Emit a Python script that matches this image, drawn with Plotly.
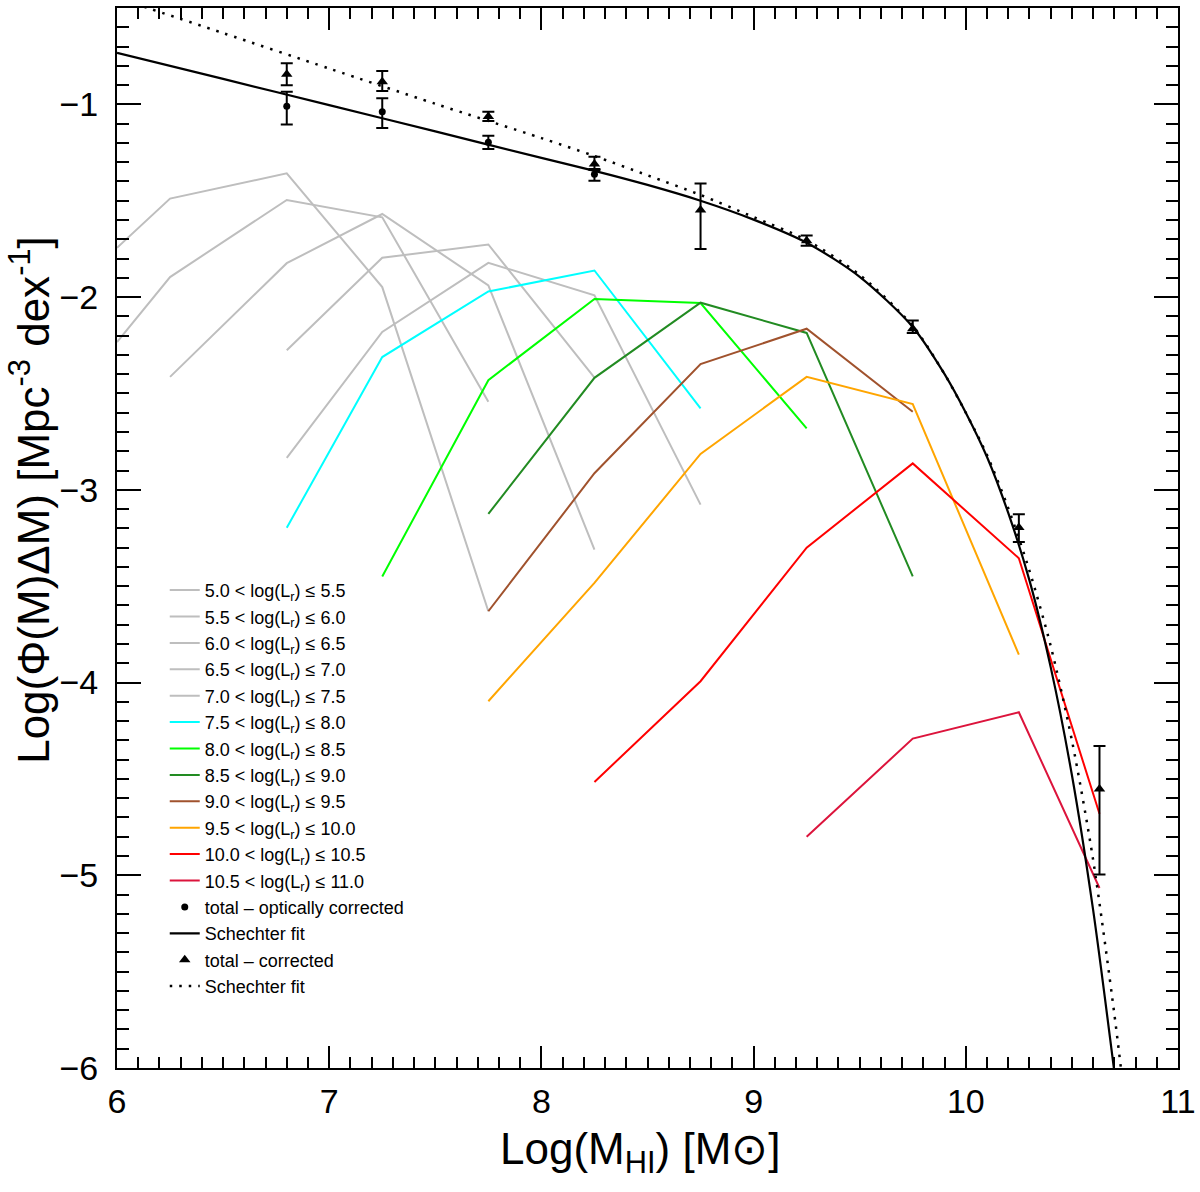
import plotly.graph_objects as go

# luminosity-bin HI mass functions (log M_HI, log phi)
bin_labels = [
    "5.0 &lt; log(L<sub>r</sub>) ≤ 5.5",
    "5.5 &lt; log(L<sub>r</sub>) ≤ 6.0",
    "6.0 &lt; log(L<sub>r</sub>) ≤ 6.5",
    "6.5 &lt; log(L<sub>r</sub>) ≤ 7.0",
    "7.0 &lt; log(L<sub>r</sub>) ≤ 7.5",
    "7.5 &lt; log(L<sub>r</sub>) ≤ 8.0",
    "8.0 &lt; log(L<sub>r</sub>) ≤ 8.5",
    "8.5 &lt; log(L<sub>r</sub>) ≤ 9.0",
    "9.0 &lt; log(L<sub>r</sub>) ≤ 9.5",
    "9.5 &lt; log(L<sub>r</sub>) ≤ 10.0",
    "10.0 &lt; log(L<sub>r</sub>) ≤ 10.5",
    "10.5 &lt; log(L<sub>r</sub>) ≤ 11.0",
]
bin_colors = ["#bebebe", "#bebebe", "#bebebe", "#bebebe", "#bebebe",
              "#00ffff", "#00ff00", "#228b22", "#a0522d", "#ffa500",
              "#ff0000", "#dc143c"]

bin_x = [
    [6.0, 6.25, 6.8, 7.25, 7.75],
    [6.0, 6.25, 6.8, 7.25, 7.75],
    [6.25, 6.8, 7.25, 7.75, 8.25],
    [6.8, 7.25, 7.75, 8.25],
    [6.8, 7.25, 7.75, 8.25, 8.75],
    [6.8, 7.25, 7.75, 8.25, 8.75],
    [7.25, 7.75, 8.25, 8.75, 9.25],
    [7.75, 8.25, 8.75, 9.25, 9.75],
    [7.75, 8.25, 8.75, 9.25, 9.75],
    [7.75, 8.25, 8.75, 9.25, 9.75, 10.25],
    [8.25, 8.75, 9.25, 9.75, 10.25, 10.63],
    [9.25, 9.75, 10.25, 10.63],
]
bin_y = [
    [-1.744, -1.489, -1.358, -1.948, -3.63],
    [-2.233, -1.896, -1.496, -1.586, -2.543],
    [-2.414, -1.824, -1.569, -1.939, -3.31],
    [-2.276, -1.796, -1.727, -2.418],
    [-2.834, -2.181, -1.822, -1.991, -3.077],
    [-3.197, -2.311, -1.971, -1.862, -2.577],
    [-3.45, -2.431, -2.01, -2.031, -2.681],
    [-3.125, -2.419, -2.029, -2.186, -3.449],
    [-3.63, -2.914, -2.348, -2.164, -2.595],
    [-4.097, -3.483, -2.814, -2.414, -2.555, -3.855],
    [-4.516, -3.993, -3.30, -2.863, -3.355, -4.681],
    [-4.80, -4.291, -4.154, -5.066],
]

# total - optically corrected (circles)
opt_x = [6.8, 7.25, 7.75, 8.25]
opt_y = [-1.010, -1.038, -1.196, -1.362]
opt_up = [0.076, 0.070, 0.033, 0.026]
opt_dn = [0.095, 0.084, 0.036, 0.034]

# total - corrected (triangles)
cor_x = [6.8, 7.25, 7.75, 8.25, 8.75, 9.25, 9.75, 10.25, 10.63]
cor_y = [-0.844, -0.883, -1.063, -1.310, -1.548, -1.708, -2.164, -3.196, -4.553]
cor_up = [0.057, 0.056, 0.025, 0.038, 0.138, 0.027, 0.043, 0.069, 0.224]
cor_dn = [0.057, 0.048, 0.023, 0.030, 0.202, 0.025, 0.022, 0.075, 0.443]

# Schechter fits
fit1_x = [6.0, 6.5, 7.0, 7.5, 8.0, 8.25, 8.5, 8.75, 9.0, 9.25, 9.5, 9.75,
          9.9, 10.0, 10.1, 10.2, 10.3, 10.4, 10.5, 10.6, 10.7]
fit1_y = [-0.733, -0.868, -1.004, -1.140, -1.278, -1.345, -1.418, -1.500,
          -1.598, -1.718, -1.895, -2.155, -2.400, -2.600, -2.830, -3.120,
          -3.470, -3.920, -4.480, -5.180, -6.020]
fit2_x = [6.0, 6.5, 7.0, 7.5, 8.0, 8.25, 8.5, 8.75, 9.0, 9.25, 9.5, 9.75,
          9.9, 10.0, 10.1, 10.2, 10.3, 10.4, 10.5, 10.6, 10.7, 10.75]
fit2_y = [-0.447, -0.630, -0.814, -0.997, -1.175, -1.268, -1.368, -1.470,
          -1.585, -1.705, -1.885, -2.150, -2.400, -2.600, -2.820, -3.095,
          -3.420, -3.810, -4.300, -4.920, -5.720, -6.180]

fig = go.Figure()

for i in range(len(bin_labels)):
    fig.add_trace(go.Scatter(x=bin_x[i], y=bin_y[i], mode="lines", name=bin_labels[i],
                             line=dict(color=bin_colors[i], width=2), legendrank=i + 1))

fig.add_trace(go.Scatter(x=fit1_x, y=fit1_y, mode="lines", name="Schechter fit",
                         line=dict(color="black", width=2.2, shape="spline", smoothing=0.8),
                         legendrank=14))
fig.add_trace(go.Scatter(x=fit2_x, y=fit2_y, mode="lines", name="Schechter fit",
                         line=dict(color="black", width=2.5, dash="2.5px,7px",
                                   shape="spline", smoothing=0.8),
                         legendrank=16))
fig.add_trace(go.Scatter(x=opt_x, y=opt_y, mode="markers", name="total – optically corrected",
                         marker=dict(color="black", size=7, symbol="circle"),
                         error_y=dict(type="data", array=opt_up, arrayminus=opt_dn,
                                      color="black", thickness=2, width=6),
                         legendrank=13))
fig.add_trace(go.Scatter(x=cor_x, y=cor_y, mode="markers", name="total – corrected",
                         marker=dict(color="black", size=10, symbol="triangle-up"),
                         error_y=dict(type="data", array=cor_up, arrayminus=cor_dn,
                                      color="black", thickness=2, width=6),
                         legendrank=15))

axis_common = dict(showline=True, linecolor="black", linewidth=2, mirror="ticks",
                   ticks="inside", tickwidth=2, tickcolor="black", showgrid=False,
                   zeroline=False, tickfont=dict(size=34, color="black"),
                   automargin=False)
fig.update_xaxes(range=[6, 11], dtick=1, tick0=0, ticklen=22, ticklabelstandoff=2,
                 minor=dict(dtick=0.1, ticks="inside", ticklen=11, tickwidth=2,
                            tickcolor="black", showgrid=False),
                 **axis_common)
fig.update_yaxes(range=[-6, -0.5], dtick=1, tick0=0, ticklen=24, ticklabelstandoff=10,
                 minor=dict(dtick=0.1, ticks="inside", ticklen=12, tickwidth=2,
                            tickcolor="black", showgrid=False),
                 **axis_common)

fig.add_annotation(text="Log(M<sub>HI</sub>) [M⊙]", xref="paper", yref="paper",
                   x=0.493, y=-0.079, xanchor="center", yanchor="middle",
                   showarrow=False, font=dict(size=44, color="black"))
fig.add_annotation(text="Log(Φ(M)ΔM) [Mpc<sup>-3</sup> dex<sup>-1</sup>]",
                   xref="paper", yref="paper", x=-0.082, y=0.536, textangle=-90,
                   xanchor="center", yanchor="middle", showarrow=False,
                   font=dict(size=44, color="black"))

fig.update_layout(
    width=1200, height=1192,
    margin=dict(l=117, r=22, t=8, b=124),
    paper_bgcolor="white", plot_bgcolor="white",
    font=dict(family="Liberation Sans, Arial, sans-serif", color="black"),
    showlegend=True,
    legend=dict(x=0.045, y=0.468, xanchor="left", yanchor="top",
                bgcolor="rgba(0,0,0,0)", borderwidth=0, tracegroupgap=0,
                itemwidth=30, font=dict(size=18, color="black")),
)

fig.write_html("out.html", config={"displayModeBar": False},
               post_script="document.body.style.margin='0';")
